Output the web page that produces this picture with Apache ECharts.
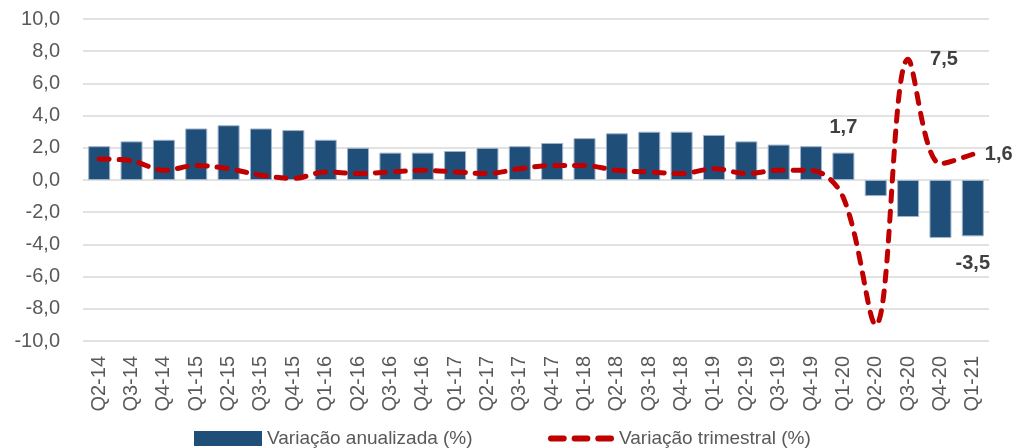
<!DOCTYPE html>
<html>
<head>
<meta charset="utf-8">
<script src="https://cdn.jsdelivr.net/npm/echarts@6/dist/echarts.min.js"></script>
<style>
  html, body { margin: 0; padding: 0; background: #fff; }
  #chart { width: 1020px; height: 448px; }
</style>
</head>
<body>
<div id="chart"></div>
<script>
var quarters = ['Q2-14', 'Q3-14', 'Q4-14', 'Q1-15', 'Q2-15', 'Q3-15', 'Q4-15', 'Q1-16', 'Q2-16', 'Q3-16',
    'Q4-16', 'Q1-17', 'Q2-17', 'Q3-17', 'Q4-17', 'Q1-18', 'Q2-18', 'Q3-18', 'Q4-18', 'Q1-19',
    'Q2-19', 'Q3-19', 'Q4-19', 'Q1-20', 'Q2-20', 'Q3-20', 'Q4-20', 'Q1-21'];

// Variação anualizada (%)
var annualized = [2.1, 2.4, 2.5, 3.2, 3.4, 3.2, 3.1, 2.5, 2.0, 1.7,
    1.7, 1.8, 2.0, 2.1, 2.3, 2.6, 2.9, 3.0, 3.0, 2.8,
    2.4, 2.2, 2.1, 1.7, -1.0, -2.3, -3.6, -3.5];

// Variação trimestral (%)
var quarterly = [1.3, 1.2, 0.6, 0.9, 0.7, 0.3, 0.1, 0.5, 0.4, 0.5,
    0.6, 0.5, 0.4, 0.7, 0.9, 0.9, 0.6, 0.5, 0.4, 0.7,
    0.4, 0.6, 0.6, -1.1, -9.0, 7.5, 1.0, 1.6];

var yTicks = { min: -10, max: 10, interval: 2 };

var fontName = 'Liberation Sans';

function fmt(v) {
    return v.toFixed(1).replace('.', ',');
}

// only some points carry a label
var barData = annualized.map(function (v, i) {
    var item = { value: v };
    if (i === 23) {
        item.label = { show: true, position: 'top', offset: [0, -10] };
    } else if (i === 27) {
        item.label = { show: true, position: 'bottom', offset: [0, 12] };
    }
    return item;
});

var lineData = quarterly.map(function (v, i) {
    var item = { value: v };
    if (i === 25) {
        item.label = { show: true, position: 'right', distance: 22 };
    } else if (i === 27) {
        item.label = { show: true, position: 'right', distance: 12 };
    }
    return item;
});

var labelStyle = {
    show: false,
    fontFamily: fontName,
    fontSize: 20,
    fontWeight: 'bold',
    color: '#404040',
    formatter: function (p) { return fmt(p.value); }
};

var legendText = { fontFamily: fontName, fontSize: 19, color: '#595959' };

// three rounded dashes for the line legend
var dashIcon = 'path://M3,0h13a3,3 0 0 1 0,6h-13a3,3 0 0 1 0,-6z' +
    'M27,0h13a3,3 0 0 1 0,6h-13a3,3 0 0 1 0,-6z' +
    'M51,0h13a3,3 0 0 1 0,6h-13a3,3 0 0 1 0,-6z';

var chart = echarts.init(document.getElementById('chart'));

var option = {
    animation: false,
    textStyle: { fontFamily: fontName },
    grid: { left: 83, right: 31, top: 19, bottom: 107, containLabel: false },
    legend: [
        {
            left: 189,
            top: 424,
            itemWidth: 68,
            itemHeight: 15,
            itemGap: 6,
            textStyle: legendText,
            data: [{ name: 'Variação anualizada (%)', icon: 'rect', itemStyle: { borderWidth: 0 } }]
        },
        {
            left: 543,
            top: 424,
            itemWidth: 66,
            itemHeight: 6,
            textStyle: legendText,
            data: [{ name: 'Variação trimestral (%)', icon: dashIcon }]
        }
    ],
    xAxis: {
        type: 'category',
        data: quarters,
        axisLine: { show: false },
        axisTick: { show: false },
        axisLabel: {
            rotate: 90,
            interval: 0,
            margin: 15,
            fontFamily: fontName,
            fontSize: 20,
            color: '#595959'
        }
    },
    yAxis: {
        type: 'value',
        min: yTicks.min,
        max: yTicks.max,
        interval: yTicks.interval,
        axisLine: { show: false },
        axisTick: { show: false },
        splitLine: { lineStyle: { color: '#d9d9d9', width: 1.5 } },
        axisLabel: {
            margin: 23,
            fontFamily: fontName,
            fontSize: 20,
            color: '#595959',
            formatter: fmt
        }
    },
    series: [
        {
            name: 'Variação anualizada (%)',
            type: 'bar',
            data: barData,
            barWidth: 22,
            itemStyle: { color: '#1f4e79', borderColor: '#9fb4cb', borderWidth: 1 },
            label: labelStyle,
            z: 2
        },
        {
            name: 'Variação trimestral (%)',
            type: 'line',
            data: lineData,
            smooth: 0.35,
            symbol: 'circle',
            symbolSize: 0,
            showSymbol: true,
            lineStyle: { color: '#c00000', width: 5, type: [10, 10], cap: 'round' },
            itemStyle: { color: '#c00000' },
            label: labelStyle,
            z: 3
        }
    ]
};

chart.setOption(option);

window.onresize = function () {
    chart.resize();
};
</script>
</body>
</html>
